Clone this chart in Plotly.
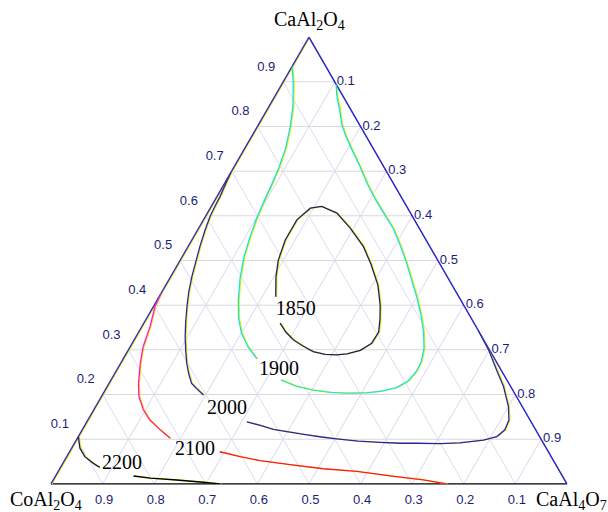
import plotly.graph_objects as go

# ---------------- data (ternary fractions: a = CaAl2O4, c = CaAl4O7, b = CoAl2O4 = 1-a-c)
tick_vals = [0.1, 0.2, 0.3, 0.4, 0.5, 0.6, 0.7, 0.8, 0.9]
tick_text = ["0.1", "0.2", "0.3", "0.4", "0.5", "0.6", "0.7", "0.8", "0.9"]

a_1850 = [0.419, 0.464, 0.501, 0.546, 0.591, 0.617, 0.621, 0.606, 0.573, 0.531, 0.492, 0.445, 0.400,
          0.367, 0.340, 0.315, 0.299, 0.291, 0.289, 0.290, 0.296, 0.308, 0.322, 0.340, 0.360]
c_1850 = [0.226, 0.204, 0.190, 0.181, 0.181, 0.194, 0.214, 0.251, 0.293, 0.340, 0.374, 0.411, 0.438,
          0.454, 0.465, 0.464, 0.450, 0.428, 0.409, 0.386, 0.360, 0.335, 0.309, 0.285, 0.264]

a_1900_left = [0.934, 0.899, 0.846, 0.799, 0.752, 0.707, 0.667, 0.629, 0.591, 0.550, 0.508, 0.461,
               0.412, 0.371, 0.338, 0.307, 0.280]
c_1900_left = [0.000, 0.020, 0.046, 0.064, 0.079, 0.088, 0.093, 0.097, 0.102, 0.110, 0.120, 0.136,
               0.157, 0.178, 0.200, 0.228, 0.259]
a_1900_right = [0.233, 0.219, 0.210, 0.205, 0.203, 0.204, 0.207, 0.215, 0.230, 0.251, 0.273, 0.304,
                0.340, 0.378, 0.418, 0.456, 0.497, 0.535, 0.571, 0.602, 0.635, 0.673, 0.710, 0.747,
                0.781, 0.805, 0.837, 0.868, 0.895]
c_1900_right = [0.329, 0.365, 0.403, 0.438, 0.472, 0.507, 0.534, 0.561, 0.577, 0.582, 0.581, 0.571,
                0.552, 0.528, 0.500, 0.471, 0.440, 0.409, 0.378, 0.346, 0.312, 0.276, 0.244, 0.210,
                0.180, 0.161, 0.141, 0.120, 0.105]

a_2000_left = [0.697, 0.669, 0.643, 0.621, 0.598, 0.566, 0.531, 0.497, 0.464, 0.430, 0.397, 0.362,
               0.330, 0.300, 0.270, 0.246, 0.225, 0.213, 0.199]
c_2000_left = [0.000, 0.003, 0.006, 0.007, 0.009, 0.015, 0.023, 0.032, 0.041, 0.052, 0.065, 0.080,
               0.095, 0.111, 0.128, 0.144, 0.160, 0.176, 0.196]
a_2000_right = [0.139, 0.131, 0.122, 0.116, 0.110, 0.105, 0.101, 0.096, 0.093, 0.091, 0.091, 0.090,
                0.092, 0.098, 0.106, 0.121, 0.143, 0.173, 0.218, 0.255, 0.300, 0.327, 0.342]
c_2000_right = [0.310, 0.340, 0.370, 0.405, 0.441, 0.472, 0.503, 0.547, 0.591, 0.631, 0.663, 0.709,
                0.746, 0.789, 0.811, 0.819, 0.816, 0.800, 0.768, 0.736, 0.698, 0.672, 0.658]

a_2100_left = [0.427, 0.397, 0.352, 0.327, 0.307, 0.270, 0.225, 0.195, 0.166, 0.143, 0.121, 0.102]
c_2100_left = [0.000, 0.003, 0.016, 0.021, 0.025, 0.038, 0.057, 0.073, 0.096, 0.120, 0.151, 0.180]
a_2100_right = [0.072, 0.061, 0.052, 0.043, 0.034, 0.028, 0.018, 0.009, 0.000]
c_2100_right = [0.291, 0.336, 0.379, 0.442, 0.511, 0.579, 0.648, 0.717, 0.767]

a_2200_left = [0.106, 0.080, 0.061, 0.046, 0.037]
c_2200_left = [0.000, 0.016, 0.035, 0.059, 0.076]
a_2200_right = [0.018, 0.013, 0.009, 0.004, 0.000]
c_2200_right = [0.151, 0.186, 0.239, 0.293, 0.328]

label_text = ["1850", "1900", "2000", "2100", "2200"]
label_a = [0.389, 0.256, 0.168, 0.076, 0.045]
label_c = [0.280, 0.314, 0.257, 0.241, 0.115]

# triangle edges (left: c = 0, right: b = 0)
left_edge_a = [1.0, 0.0]
left_edge_c = [0.0, 0.0]
right_edge_a = [1.0, 0.0]
right_edge_c = [0.0, 1.0]

# ---------------- styles
FRINGE = "#f0f000"
SHIFT = 1.0 / 516  # one pixel to the right, in ternary units
EDGE_BLUE = "#2828c8"


def hex2rgb(h):
    h = h.lstrip("#")
    return tuple(int(h[i:i + 2], 16) for i in (0, 2, 4))


def mix(c1, c2, t):
    r1, r2 = hex2rgb(c1), hex2rgb(c2)
    return "#%02x%02x%02x" % tuple(round(x + (y - x) * t) for x, y in zip(r1, r2))


fig = go.Figure()


def bvals(a, c):
    return [1 - x - y for x, y in zip(a, c)]


def fringe(a, c, width=1.1):
    cs = [y + SHIFT for y in c]
    fig.add_trace(go.Scatterternary(a=a, b=bvals(a, cs), c=cs, mode="lines",
                                    line=dict(color=FRINGE, width=width),
                                    hoverinfo="skip", showlegend=False))


def line(a, c, color, width=1.3):
    fig.add_trace(go.Scatterternary(a=a, b=bvals(a, c), c=c, mode="lines",
                                    line=dict(color=color, width=width),
                                    hoverinfo="skip", showlegend=False))


def graded(a, c, c_start, c_end, n_grade=None):
    n = len(a) - 1
    if n_grade is None:
        n_grade = n
    for i in range(n):
        t = min(1.0, i / max(1, n_grade))
        line(a[i:i + 2], c[i:i + 2], mix(c_start, c_end, t))


# yellow fringes first
for A, C in [(a_1850, c_1850), (a_1900_left, c_1900_left),
             (a_1900_right, c_1900_right), (a_2000_left, c_2000_left), (a_2000_right, c_2000_right),
             (a_2100_left, c_2100_left), (a_2100_right, c_2100_right),
             (a_2200_left, c_2200_left), (a_2200_right, c_2200_right)]:
    fringe(A, C)
fringe(left_edge_a, left_edge_c, width=1.2)

# edges drawn over fringes
line(left_edge_a, left_edge_c, EDGE_BLUE, width=1.3)
line(right_edge_a, right_edge_c, EDGE_BLUE, width=1.3)

# contour lines
line(a_1850, c_1850, "#1e1e5e")
line(a_1900_left, c_1900_left, "#18e0e0")
graded(a_1900_right, c_1900_right, "#3ce8a0", "#18e0e0", n_grade=10)
line(a_2000_left, c_2000_left, "#2626a8")
line(a_2000_right, c_2000_right, "#2626a8")
graded(a_2100_left, c_2100_left, "#ff10ff", "#ff2060")
line(a_2100_right, c_2100_right, "#ff1818")
line(a_2200_left, c_2200_left, "#1a1a60")
line(a_2200_right, c_2200_right, "#000000", width=1.5)

# contour labels
fig.add_trace(go.Scatterternary(a=label_a, c=label_c, b=bvals(label_a, label_c), mode="text",
                                text=label_text, textposition="middle center",
                                textfont=dict(family="Liberation Serif", size=20, color="#000000"),
                                hoverinfo="skip", showlegend=False, cliponaxis=False))

tickfont = dict(family="Liberation Sans", size=13, color="#1c1c78")

# left-edge (CaAl2O4) tick labels, placed at the edge points via the ternary scale
fig.add_trace(go.Scatterternary(a=tick_vals, c=[0.0] * len(tick_vals),
                                b=[1 - v for v in tick_vals], mode="markers+text", text=tick_text,
                                marker=dict(size=11, opacity=0),
                                textposition="top left", textfont=tickfont,
                                hoverinfo="skip", showlegend=False, cliponaxis=False))

common = dict(tickvals=tick_vals, ticktext=tick_text, showgrid=True, gridwidth=1,
              showline=True, tickfont=tickfont, title=dict(text=""), layer="below traces")

fig.update_layout(
    width=608, height=512,
    margin=dict(l=51, r=41, t=37, b=28),
    paper_bgcolor="white",
    ternary=dict(
        sum=1,
        bgcolor="white",
        aaxis=dict(**common, ticks="", gridcolor="#d8d8d8", linecolor=EDGE_BLUE, linewidth=1.3,
                   showticklabels=False),
        baxis=dict(**common, ticks="outside", ticklen=3, tickcolor="rgba(0,0,0,0)",
                   gridcolor="#dcdcf0", linecolor="#000000", linewidth=1.3),
        caxis=dict(**common, ticks="", gridcolor="#dcdcf0", linecolor=EDGE_BLUE, linewidth=1.3),
    ),
    annotations=[
        dict(text="CaAl<sub>2</sub>O<sub>4</sub>", xref="paper", yref="paper", x=0.5, y=1.038,
             showarrow=False, xanchor="center", yanchor="middle",
             font=dict(family="Liberation Serif", size=20, color="#000000")),
        dict(text="CoAl<sub>2</sub>O<sub>4</sub>", xref="paper", yref="paper", x=-0.0097, y=-0.036,
             showarrow=False, xanchor="center", yanchor="middle",
             font=dict(family="Liberation Serif", size=20, color="#000000")),
        dict(text="CaAl<sub>4</sub>O<sub>7</sub>", xref="paper", yref="paper", x=1.0078, y=-0.036,
             showarrow=False, xanchor="center", yanchor="middle",
             font=dict(family="Liberation Serif", size=20, color="#000000")),
    ],
)

fig.write_html("out.html", config={"displayModeBar": False},
               post_script="document.body.style.margin='0';")
